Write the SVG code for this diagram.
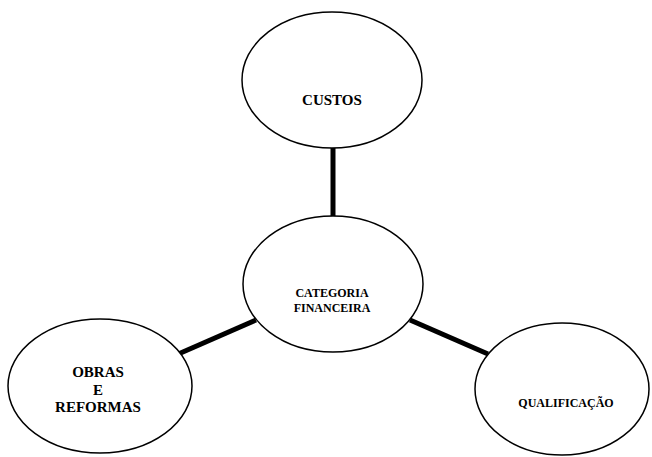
<svg xmlns="http://www.w3.org/2000/svg" width="652" height="457" viewBox="0 0 652 457">
<style>
.n{fill:#fff;stroke:#000;stroke-width:1.5}
.c{stroke:#000;stroke-width:5;fill:none}
</style>
<rect width="652" height="457" fill="#fff"/>
<g id="connectors">
<line class="c" x1="333" y1="148" x2="333" y2="218"/>
<line class="c" x1="176" y1="355" x2="256" y2="320"/>
<line class="c" x1="410" y1="320" x2="488" y2="354"/>
</g>
<g font-family="Liberation Serif, Times New Roman, serif" font-weight="bold" fill="#000" text-anchor="middle">
<g id="custos">
<ellipse class="n" cx="332" cy="80" rx="90" ry="68"/>
<text x="332" y="105" font-size="15">CUSTOS</text>
</g>
<g id="categoria">
<ellipse class="n" cx="333" cy="284" rx="90" ry="68"/>
<text x="332" y="297" font-size="12">CATEGORIA</text>
<text x="332" y="312" font-size="12">FINANCEIRA</text>
</g>
<g id="obras">
<ellipse class="n" cx="100" cy="386" rx="92" ry="67"/>
<text x="98" y="377" font-size="15">OBRAS</text>
<text x="98" y="395" font-size="15">E</text>
<text x="98" y="412" font-size="15">REFORMAS</text>
</g>
<g id="qualificacao">
<ellipse class="n" cx="562" cy="389" rx="87" ry="66"/>
<text x="566" y="407" font-size="12">QUALIFICAÇÃO</text>
</g>
</g>
</svg>
